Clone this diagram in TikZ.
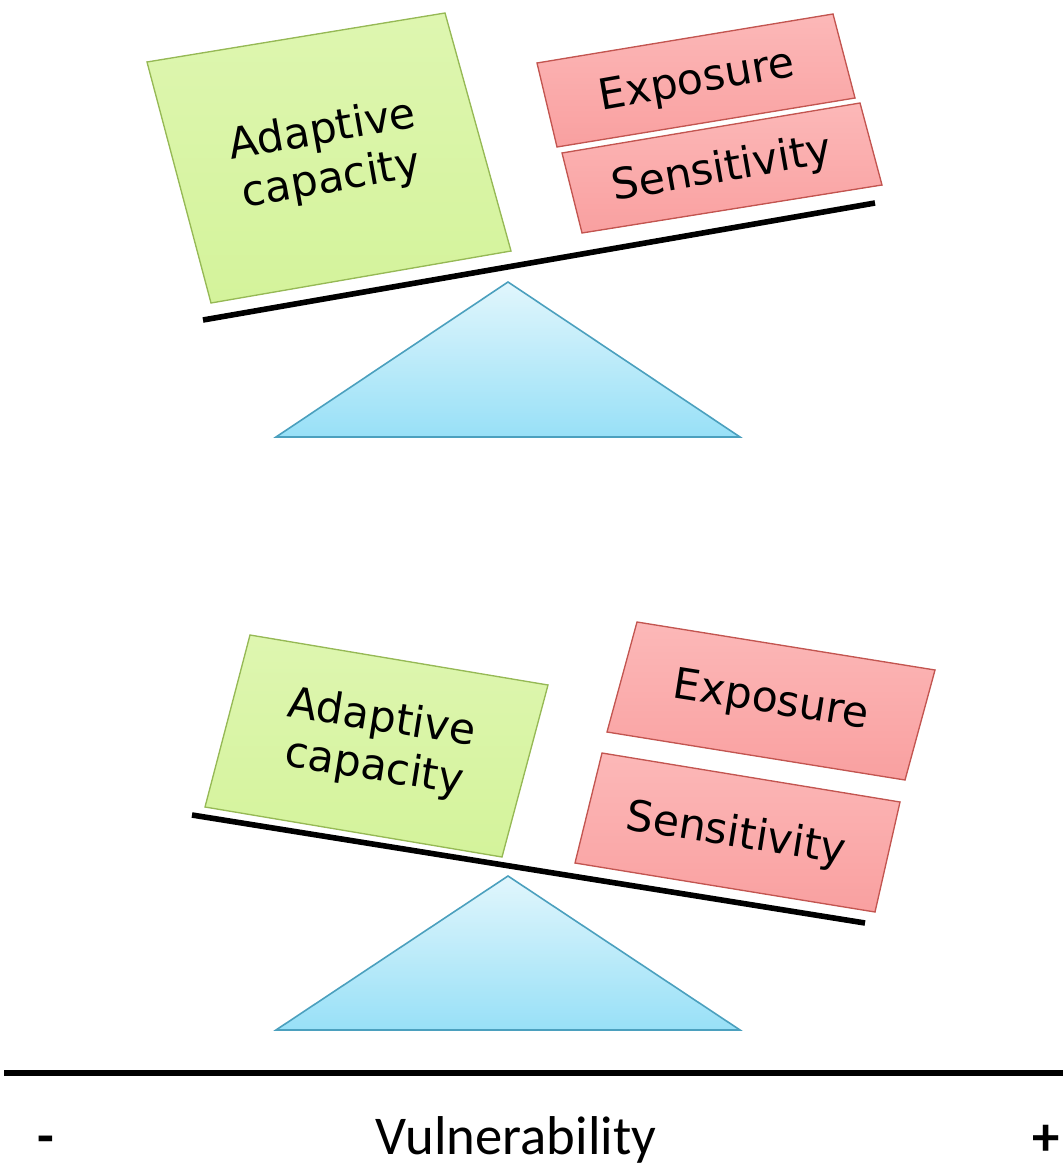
\documentclass[tikz,border=0pt]{standalone}
\usepackage{fontspec}
\setmainfont{DejaVu Sans}
\newfontfamily\calib{Carlito}
\definecolor{gfill}{RGB}{212,243,155}
\definecolor{gfilltop}{RGB}{222,246,176}
\definecolor{gdraw}{RGB}{150,185,85}
\definecolor{rfill}{RGB}{249,160,160}
\definecolor{rfilltop}{RGB}{252,184,184}
\definecolor{rdraw}{RGB}{195,85,80}
\definecolor{tfilltop}{RGB}{225,246,252}
\definecolor{tfillbot}{RGB}{152,224,247}
\definecolor{tdraw}{RGB}{75,160,190}
\begin{document}
\begin{tikzpicture}[x=0.75pt,y=-0.75pt,
  greenbox/.style={draw=gdraw,line width=1pt,top color=gfilltop,bottom color=gfill},
  redbox/.style={draw=rdraw,line width=1pt,top color=rfilltop,bottom color=rfill},
  fulcrum/.style={draw=tdraw,line width=1.2pt,top color=tfilltop,bottom color=tfillbot},
  beam/.style={line width=4.2pt,black},
  boxtext/.style={font=\fontsize{32}{37}\selectfont,align=center,inner sep=0pt}]
\useasboundingbox (0,0) rectangle (1063,1167);
% ---------- top balance ----------
\draw[beam] (203,320) coordinate (tb1) -- (875,203) coordinate (tb2);
\filldraw[fulcrum] (508,282) -- (740,437) -- (276,437) -- cycle;
\filldraw[greenbox] (147,62) -- (445,13) -- (511,251) -- (211,303) -- cycle;
\filldraw[redbox] (537,63) -- (833,14) -- (855,98) -- (557,147) -- cycle;
\filldraw[redbox] (562,153) -- (860,103) -- (882,185) -- (582,233) -- cycle;
\node[boxtext,rotate=10] (tadapt) at (327,156) {Adaptive\\capacity};
\node[boxtext,rotate=10] (texpo) at (697,82) {Exposure};
\node[boxtext,rotate=10] (tsens) at (722,170) {Sensitivity};
% ---------- bottom balance ----------
\draw[beam] (192,815) coordinate (bb1) -- (865,923) coordinate (bb2);
\filldraw[fulcrum] (508,876) -- (740,1030) -- (276,1030) -- cycle;
\filldraw[greenbox] (250,635) -- (548,685) -- (502,857) -- (205,807) -- cycle;
\filldraw[redbox] (637,622) -- (935,670) -- (905,780) -- (607,732) -- cycle;
\filldraw[redbox] (602,753) -- (900,802) -- (875,912) -- (575,863) -- cycle;
\node[boxtext,rotate=-9] (badapt) at (378,744) {Adaptive\\capacity};
\node[boxtext,rotate=-9] (bexpo) at (771,702) {Exposure};
\node[boxtext,rotate=-9] (bsens) at (736,835) {Sensitivity};
% ---------- axis ----------
\draw[line width=4pt] (4,1073) coordinate (ax1) -- (1063,1073) coordinate (ax2);
\node[font=\calib\fontsize{41}{48}\selectfont] (vul) at (516,1140) {Vulnerability};
\node[font=\calib\bfseries\fontsize{41}{48}\selectfont] (minus) at (46,1145) {-};
\node[font=\calib\bfseries\fontsize{41}{48}\selectfont] (plus) at (1046,1140) {+};
\end{tikzpicture}
\end{document}
